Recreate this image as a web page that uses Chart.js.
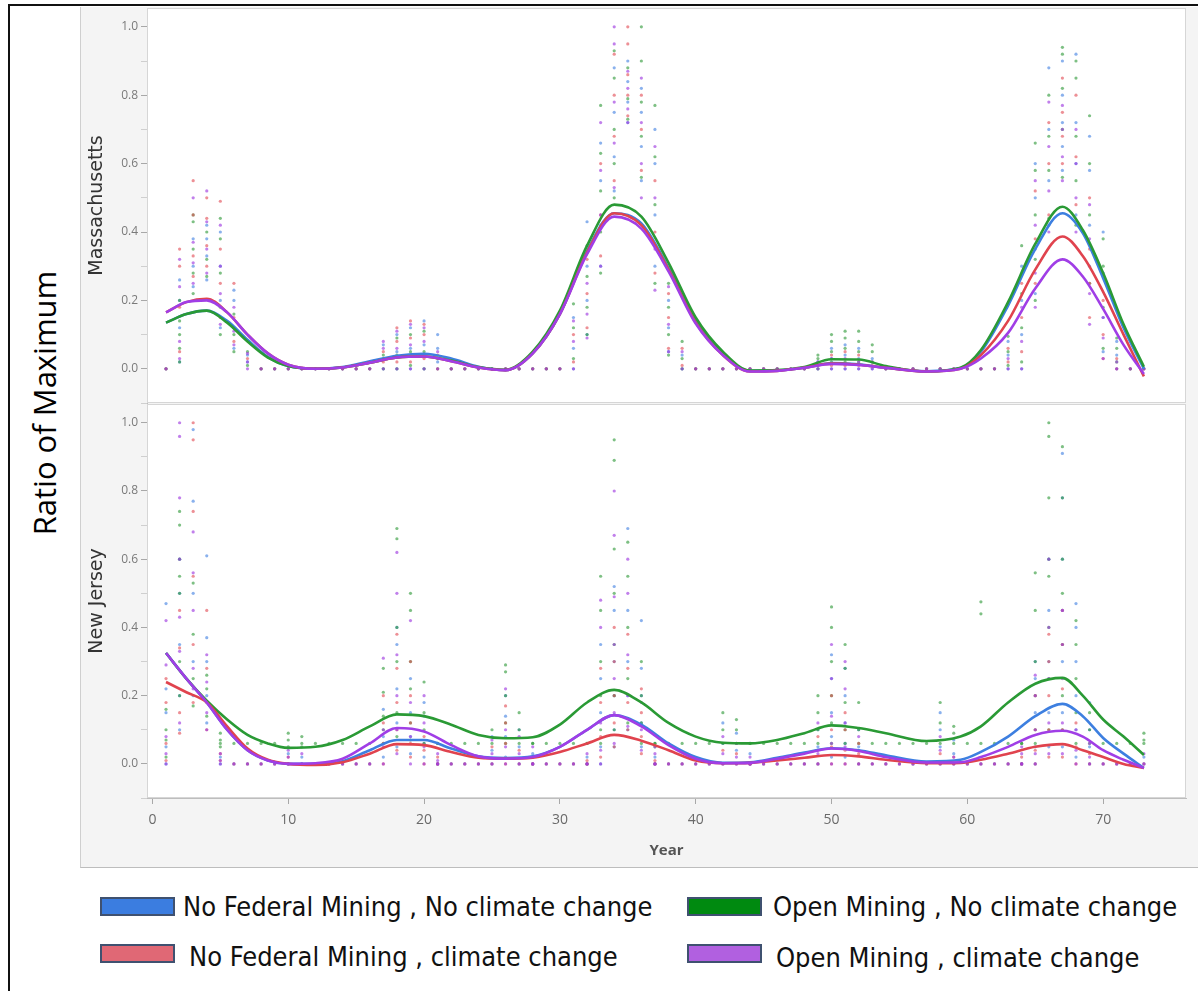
<!DOCTYPE html>
<html lang="en">
<head>
<meta charset="utf-8">
<title>Ratio of Maximum</title>
<style>
body { margin: 0; width: 1198px; height: 991px; position: relative; overflow: hidden; background: #fff; font-family: "Open Sans", sans-serif; }
#frame { position: absolute; left: 8px; top: 4px; width: 1300px; height: 1100px; border-left: 2px solid #111; border-top: 2px solid #111; }
#panel { position: absolute; left: 80px; top: 7px; width: 1130px; height: 860px; background: #f4f4f4; border-left: 1px solid #cfcfcf; border-bottom: 1px solid #bdbdbd; }
#ratio { position: absolute; left: 44px; top: 403px; transform: translate(-50%, -50%) rotate(-90deg); font-size: 31px; white-space: nowrap; color: #000; }
.plot { position: absolute; left: 80px; width: 1118px; }
.sw { position: absolute; width: 71px; height: 15px; border: 2px solid #3f5170; }
.lab { position: absolute; white-space: nowrap; font-family: "Liberation Sans Narrow", "DejaVu Sans Condensed", sans-serif; font-size: 27px; color: #111; transform: translateY(-50%); }
</style>
</head>
<body>
<div id="frame"></div>
<div id="panel"></div>
<div id="ratio">Ratio of Maximum</div>
<div class="plot" style="top:7px;height:397px"><canvas id="ma"></canvas></div>
<div class="plot" style="top:404px;height:463px"><canvas id="nj"></canvas></div>
<div id="legend"></div>
<script src="https://cdn.jsdelivr.net/npm/chart.js"></script>
<script>

let SERIES = ["No Federal Mining , No climate change", "Open Mining , No climate change",
              "No Federal Mining , climate change", "Open Mining , climate change"]

// years where the fitted curves are sampled
let FIT_X = [1, 2.5, 4, 5.5, 7, 8.5, 10, 12, 14, 16, 18, 20, 22, 24, 26, 28, 30, 32, 34, 36, 38, 40, 42, 44, 46, 48, 50, 52, 54, 57, 59.5, 61, 63, 65, 67, 68.5, 70, 71.5, 73]

// Massachusetts fits
let MA_FIT_BLUE   = [0.135, 0.16, 0.17, 0.14, 0.085, 0.035, 0.008, 0.0, 0.005, 0.022, 0.038, 0.044, 0.03, 0.006, -0.004, 0.045, 0.16, 0.345, 0.455, 0.425, 0.295, 0.14, 0.045, -0.006, -0.005, 0.003, 0.017, 0.013, 0.003, -0.007, 0.002, 0.05, 0.185, 0.35, 0.455, 0.397, 0.265, 0.12, 0.0]
let MA_FIT_GREEN  = [0.135, 0.16, 0.17, 0.135, 0.08, 0.033, 0.008, 0.0, 0.004, 0.018, 0.033, 0.036, 0.024, 0.005, -0.003, 0.05, 0.17, 0.36, 0.48, 0.445, 0.31, 0.15, 0.05, -0.005, -0.004, 0.005, 0.028, 0.027, 0.008, -0.008, 0.003, 0.055, 0.195, 0.365, 0.474, 0.406, 0.28, 0.13, 0.006]
let MA_FIT_RED    = [0.165, 0.195, 0.205, 0.165, 0.1, 0.045, 0.012, 0.0, 0.004, 0.018, 0.033, 0.036, 0.022, 0.004, -0.004, 0.045, 0.16, 0.34, 0.455, 0.42, 0.29, 0.135, 0.04, -0.008, -0.006, 0.003, 0.015, 0.012, 0.003, -0.008, 0.0, 0.04, 0.14, 0.29, 0.387, 0.33, 0.225, 0.1, -0.022]
let MA_FIT_PURPLE = [0.165, 0.195, 0.2, 0.165, 0.1, 0.045, 0.012, 0.0, 0.004, 0.018, 0.033, 0.036, 0.022, 0.004, -0.004, 0.045, 0.16, 0.335, 0.445, 0.41, 0.285, 0.132, 0.04, -0.008, -0.006, 0.003, 0.014, 0.011, 0.003, -0.008, 0.0, 0.03, 0.105, 0.235, 0.32, 0.27, 0.175, 0.07, -0.015]

// New Jersey fits
let NJ_FIT_BLUE   = [0.325, 0.25, 0.18, 0.1, 0.04, 0.01, 0.0, 0.0, 0.008, 0.04, 0.07, 0.07, 0.045, 0.022, 0.017, 0.022, 0.05, 0.1, 0.143, 0.115, 0.06, 0.02, 0.003, 0.005, 0.018, 0.033, 0.046, 0.04, 0.025, 0.007, 0.012, 0.035, 0.08, 0.14, 0.176, 0.14, 0.076, 0.03, -0.012]
let NJ_FIT_GREEN  = [0.325, 0.25, 0.185, 0.13, 0.085, 0.06, 0.047, 0.05, 0.07, 0.11, 0.145, 0.14, 0.115, 0.085, 0.075, 0.078, 0.115, 0.18, 0.217, 0.18, 0.12, 0.08, 0.062, 0.06, 0.07, 0.09, 0.113, 0.105, 0.09, 0.067, 0.08, 0.11, 0.18, 0.235, 0.252, 0.2, 0.13, 0.08, 0.026]
let NJ_FIT_RED    = [0.24, 0.21, 0.18, 0.11, 0.045, 0.012, 0.0, -0.003, 0.005, 0.03, 0.058, 0.055, 0.035, 0.018, 0.015, 0.018, 0.035, 0.06, 0.085, 0.068, 0.04, 0.01, 0.002, 0.003, 0.01, 0.018, 0.026, 0.022, 0.012, 0.002, 0.003, 0.012, 0.03, 0.05, 0.058, 0.04, 0.02, 0.0, -0.012]
let NJ_FIT_PURPLE = [0.325, 0.25, 0.18, 0.1, 0.04, 0.01, 0.0, 0.002, 0.015, 0.06, 0.105, 0.095, 0.055, 0.022, 0.015, 0.02, 0.05, 0.1, 0.143, 0.11, 0.055, 0.015, 0.002, 0.003, 0.015, 0.03, 0.045, 0.038, 0.02, 0.004, 0.005, 0.02, 0.05, 0.085, 0.097, 0.08, 0.04, 0.012, -0.012]

// years where every run sits on its floor
let MA_IDLE_YEARS = [1, 8, 9, 10, 11, 12, 13, 14, 15, 16, 22, 23, 24, 25, 26, 27, 28, 29, 30, 40, 41, 42, 43, 44, 45, 46, 47, 48, 54, 55, 56, 57, 58, 59, 60, 61, 62, 72, 73]
let NJ_IDLE_YEARS = [6, 7, 8, 9, 12, 13, 14, 15, 16, 21, 22, 23, 24, 28, 29, 30, 31, 32, 37, 38, 39, 40, 41, 44, 45, 46, 47, 48, 53, 54, 55, 56, 57, 60, 62, 63, 64, 70, 71, 72]
let NJ_GREEN_FLOOR = 0.06

// raw runs: [year, values...]
let MA_PTS_BLUE = [[2, 0.02, 0.12, 0.2, 0.26], [3, 0.24, 0.3, 0.38], [4, 0.26, 0.33, 0.38, 0.42], [5, 0.12, 0.2, 0.3, 0.4], [6, 0.06, 0.12, 0.2, 0.23], [7, 0.02, 0.04],
  [17, 0.0, 0.03, 0.07], [18, 0.0, 0.05, 0.1], [19, 0.0, 0.06, 0.12], [20, 0.0, 0.07, 0.14], [21, 0.02, 0.06, 0.1],
  [31, 0.0, 0.06, 0.15], [32, 0.1, 0.2, 0.3, 0.43], [33, 0.3, 0.42, 0.55, 0.66], [34, 0.52, 0.62, 0.75, 0.88], [35, 0.72, 0.78, 0.84, 0.9], [36, 0.55, 0.65, 0.75, 0.82], [37, 0.3, 0.45, 0.6, 0.7], [38, 0.05, 0.12, 0.2], [39, 0.0, 0.04],
  [49, 0.0, 0.02], [50, 0.0, 0.03, 0.06], [51, 0.0, 0.04, 0.07], [52, 0.0, 0.03, 0.06], [53, 0.0, 0.03],
  [63, 0.0, 0.04, 0.08], [64, 0.0, 0.1, 0.2, 0.3], [65, 0.22, 0.35, 0.5, 0.6], [66, 0.42, 0.55, 0.7, 0.88], [67, 0.58, 0.65, 0.72, 0.8, 0.9], [68, 0.45, 0.6, 0.72, 0.92], [69, 0.3, 0.42, 0.58, 0.68], [70, 0.05, 0.15, 0.28, 0.4], [71, 0.0, 0.04, 0.08]]
let MA_PTS_GREEN = [[2, 0.02, 0.06, 0.1, 0.14, 0.2], [3, 0.22, 0.28, 0.35, 0.43, 0.45], [4, 0.27, 0.32, 0.4], [5, 0.1, 0.18, 0.28, 0.38, 0.44], [6, 0.05, 0.1, 0.16], [7, 0.01, 0.05],
  [17, 0.0, 0.04], [18, 0.0, 0.04, 0.09], [19, 0.01, 0.05, 0.1], [20, 0.0, 0.05, 0.11], [21, 0.0, 0.03],
  [31, 0.03, 0.12, 0.19], [32, 0.1, 0.18, 0.27, 0.36], [33, 0.28, 0.4, 0.52, 0.63, 0.77], [34, 0.5, 0.6, 0.7, 0.85, 0.93], [35, 0.73, 0.79, 0.88], [36, 0.56, 0.68, 0.78, 0.9, 1.0], [37, 0.25, 0.48, 0.62, 0.77], [38, 0.04, 0.1, 0.18, 0.25], [39, 0.0, 0.03, 0.08],
  [49, 0.0, 0.03, 0.04], [50, 0.02, 0.05, 0.08, 0.1], [51, 0.02, 0.06, 0.09, 0.11], [52, 0.02, 0.05, 0.08, 0.11], [53, 0.02, 0.05, 0.07],
  [63, 0.01, 0.05, 0.095], [64, 0.02, 0.12, 0.22, 0.36], [65, 0.2, 0.32, 0.45, 0.58, 0.66], [66, 0.44, 0.58, 0.68, 0.8], [67, 0.56, 0.7, 0.82, 0.92, 0.94], [68, 0.42, 0.55, 0.68, 0.85, 0.9], [69, 0.25, 0.45, 0.6, 0.74], [70, 0.06, 0.18, 0.3, 0.38], [71, 0.02, 0.06, 0.09]]
let MA_PTS_RED = [[2, 0.05, 0.18, 0.3, 0.35], [3, 0.27, 0.33, 0.45, 0.55], [4, 0.3, 0.36, 0.44, 0.5], [5, 0.15, 0.25, 0.35, 0.49], [6, 0.08, 0.15, 0.25], [7, 0.03],
  [17, 0.02, 0.05], [18, 0.02, 0.08, 0.12], [19, 0.02, 0.09, 0.14], [20, 0.03, 0.1, 0.13], [21, 0.0, 0.04],
  [31, 0.02, 0.1], [32, 0.12, 0.22, 0.32], [33, 0.33, 0.45, 0.6], [34, 0.55, 0.68, 0.8, 0.92], [35, 0.74, 0.8, 0.86, 0.95, 1.0], [36, 0.58, 0.7, 0.8], [37, 0.28, 0.4, 0.55], [38, 0.06, 0.15, 0.22], [39, 0.01, 0.06],
  [49, 0.01], [50, 0.01, 0.04], [51, 0.01, 0.05], [52, 0.01, 0.04], [53, 0.01],
  [63, 0.02, 0.06], [64, 0.05, 0.15, 0.25], [65, 0.25, 0.38, 0.52], [66, 0.45, 0.6, 0.72], [67, 0.6, 0.68, 0.75, 0.85], [68, 0.48, 0.62, 0.8], [69, 0.15, 0.25, 0.35, 0.5], [70, 0.03, 0.1, 0.2], [71, 0.0, 0.03]]
let MA_PTS_PURPLE = [[2, 0.03, 0.08, 0.24, 0.32], [3, 0.25, 0.31, 0.37, 0.5], [4, 0.28, 0.35, 0.43, 0.52], [5, 0.13, 0.22, 0.3, 0.42], [6, 0.07, 0.11, 0.18], [7, 0.0, 0.02, 0.045],
  [17, 0.0, 0.06, 0.08], [18, 0.0, 0.06, 0.11], [19, 0.0, 0.07, 0.13], [20, 0.0, 0.08, 0.12], [21, 0.0, 0.05],
  [31, 0.0, 0.08, 0.14], [32, 0.09, 0.16, 0.25, 0.34], [33, 0.3, 0.45, 0.58, 0.72], [34, 0.53, 0.66, 0.78, 0.95, 1.0], [35, 0.72, 0.76, 0.82, 0.87], [36, 0.5, 0.6, 0.72, 0.85], [37, 0.23, 0.35, 0.5, 0.65], [38, 0.05, 0.13, 0.24], [39, 0.0, 0.05],
  [49, 0.0, 0.02], [50, 0.0, 0.03], [51, 0.0, 0.03], [52, 0.0, 0.02], [53, 0.0, 0.02],
  [63, 0.0, 0.03], [64, 0.0, 0.08, 0.18], [65, 0.18, 0.28, 0.42, 0.55], [66, 0.4, 0.52, 0.65, 0.78], [67, 0.55, 0.62, 0.7, 0.77], [68, 0.4, 0.5, 0.6, 0.7], [69, 0.13, 0.22, 0.38, 0.48], [70, 0.03, 0.09, 0.15], [71, 0.0, 0.02]]

let NJ_PTS_BLUE = [[1, 0.0, 0.05, 0.15, 0.22, 0.47], [2, 0.1, 0.2, 0.35, 0.5, 0.6], [3, 0.2, 0.3, 0.5, 0.77, 0.98], [4, 0.12, 0.2, 0.3, 0.37, 0.61], [5, 0.0, 0.02], [10, 0.0, 0.03], [11, 0.0, 0.02],
  [17, 0.02, 0.08, 0.16], [18, 0.05, 0.12, 0.22, 0.35, 0.4], [19, 0.03, 0.08, 0.15, 0.25], [20, 0.02, 0.06, 0.14, 0.18], [21, 0.0],
  [25, 0.0, 0.04, 0.08], [26, 0.02, 0.08, 0.14, 0.2], [27, 0.0, 0.05, 0.1], [28, 0.0, 0.03],
  [32, 0.0, 0.02], [33, 0.0, 0.05, 0.15, 0.25, 0.35], [34, 0.05, 0.1, 0.2, 0.3, 0.45, 0.52], [35, 0.1, 0.2, 0.3, 0.45, 0.69], [36, 0.05, 0.12, 0.2, 0.28, 0.42], [37, 0.0, 0.02],
  [42, 0.0, 0.06, 0.12], [43, 0.0, 0.04, 0.09], [44, 0.0, 0.03],
  [49, 0.0, 0.05, 0.1], [50, 0.02, 0.08, 0.15, 0.25, 0.32], [51, 0.02, 0.06, 0.12, 0.2, 0.28], [52, 0.0, 0.05, 0.1],
  [58, 0.0, 0.05, 0.1, 0.15], [59, 0.0, 0.03, 0.07], [61, 0.0], [64, 0.0],
  [65, 0.0, 0.05, 0.15, 0.25, 0.3], [66, 0.05, 0.15, 0.3, 0.45, 0.6], [67, 0.05, 0.15, 0.3, 0.45, 0.6, 0.78, 0.91], [68, 0.02, 0.1, 0.2, 0.3, 0.4, 0.47], [69, 0.0, 0.05, 0.1, 0.18], [73, 0.0, 0.02]]
let NJ_PTS_GREEN = [[1, 0.02, 0.07, 0.1, 0.16], [2, 0.2, 0.3, 0.5, 0.55, 0.6, 0.7, 0.74], [3, 0.17, 0.25, 0.38, 0.53], [4, 0.14, 0.22, 0.26], [5, 0.05, 0.06, 0.07, 0.09], [10, 0.05, 0.07, 0.09], [11, 0.05, 0.06, 0.08],
  [17, 0.06, 0.1, 0.14, 0.21, 0.28], [18, 0.08, 0.15, 0.3, 0.4, 0.66, 0.69], [19, 0.07, 0.12, 0.22, 0.3, 0.45, 0.5], [20, 0.06, 0.1, 0.15, 0.24], [21, 0.06],
  [25, 0.06, 0.1], [26, 0.06, 0.12, 0.2, 0.27, 0.29], [27, 0.06, 0.1, 0.15], [28, 0.06],
  [32, 0.06], [33, 0.06, 0.1, 0.2, 0.3, 0.45, 0.55], [34, 0.1, 0.2, 0.35, 0.5, 0.63, 0.89, 0.95], [35, 0.12, 0.25, 0.4, 0.55, 0.65], [36, 0.06, 0.12, 0.2, 0.3], [37, 0.05, 0.06],
  [42, 0.06, 0.1, 0.15], [43, 0.06, 0.1, 0.13], [44, 0.06],
  [49, 0.06, 0.1, 0.15, 0.2], [50, 0.06, 0.12, 0.2, 0.3, 0.4, 0.46], [51, 0.06, 0.1, 0.18, 0.28, 0.35], [52, 0.06, 0.1, 0.18],
  [58, 0.06, 0.12, 0.18], [59, 0.06, 0.09, 0.11], [61, 0.06, 0.44, 0.475], [64, 0.06],
  [65, 0.06, 0.1, 0.2, 0.3, 0.45, 0.56], [66, 0.1, 0.25, 0.4, 0.55, 0.6, 0.78, 0.96, 1.0], [67, 0.1, 0.2, 0.35, 0.5, 0.6, 0.78, 0.93], [68, 0.06, 0.15, 0.25, 0.35, 0.42], [69, 0.06, 0.1, 0.15], [73, 0.06, 0.07, 0.09]]
let NJ_PTS_RED = [[1, 0.01, 0.06, 0.18, 0.25], [2, 0.09, 0.15, 0.34, 0.45], [3, 0.18, 0.35, 0.55, 0.74, 0.95, 1.0], [4, 0.1, 0.18, 0.28, 0.45], [5, 0.01, 0.03], [10, 0.0, 0.02], [11, 0.0],
  [17, 0.0, 0.06, 0.12, 0.2], [18, 0.04, 0.1, 0.18, 0.28, 0.38], [19, 0.02, 0.06, 0.12, 0.2, 0.3], [20, 0.0, 0.04, 0.08], [21, 0.0, 0.02],
  [25, 0.0, 0.05], [26, 0.0, 0.06, 0.12, 0.17], [27, 0.0, 0.04], [28, 0.0],
  [32, 0.0, 0.01], [33, 0.02, 0.08, 0.18, 0.28], [34, 0.05, 0.12, 0.2, 0.3, 0.4], [35, 0.1, 0.18, 0.28, 0.38], [36, 0.03, 0.08, 0.15, 0.22], [37, 0.0, 0.01],
  [42, 0.0, 0.04], [43, 0.0, 0.03], [44, 0.0],
  [49, 0.0, 0.04, 0.08], [50, 0.0, 0.05, 0.1, 0.2], [51, 0.0, 0.04, 0.1, 0.15], [52, 0.0, 0.03, 0.06],
  [58, 0.0, 0.03], [59, 0.0, 0.02], [61, 0.0], [64, 0.0, 0.02],
  [65, 0.0, 0.04, 0.1, 0.2], [66, 0.02, 0.1, 0.2, 0.3, 0.38], [67, 0.02, 0.1, 0.22, 0.35, 0.45], [68, 0.0, 0.05, 0.12], [69, 0.0, 0.03], [73, 0.0]]
let NJ_PTS_PURPLE = [[1, 0.0, 0.03, 0.08, 0.29, 0.42], [2, 0.12, 0.33, 0.43, 0.6, 0.78, 0.96, 1.0], [3, 0.22, 0.28, 0.45, 0.56, 0.68], [4, 0.1, 0.15, 0.24, 0.32], [5, 0.0, 0.01, 0.03], [10, 0.0, 0.02, 0.04], [11, 0.0, 0.03],
  [17, 0.0, 0.05, 0.1, 0.31], [18, 0.03, 0.1, 0.2, 0.32, 0.5, 0.62], [19, 0.0, 0.08, 0.18, 0.42], [20, 0.0, 0.05, 0.12, 0.2], [21, 0.0, 0.01, 0.03],
  [25, 0.0, 0.03, 0.07], [26, 0.0, 0.05, 0.1, 0.22], [27, 0.0, 0.03, 0.08], [28, 0.0, 0.02, 0.05],
  [32, 0.0, 0.03], [33, 0.0, 0.04, 0.12, 0.4, 0.48], [34, 0.06, 0.15, 0.25, 0.35, 0.49, 0.67, 0.8], [35, 0.11, 0.2, 0.32, 0.5, 0.6], [36, 0.04, 0.1, 0.18], [37, 0.0, 0.03, 0.05],
  [42, 0.0, 0.03, 0.08], [43, 0.0, 0.02, 0.06], [44, 0.0, 0.02],
  [49, 0.0, 0.03, 0.12], [50, 0.0, 0.06, 0.14, 0.25, 0.35], [51, 0.0, 0.05, 0.12, 0.22, 0.3], [52, 0.0, 0.04, 0.08],
  [58, 0.0, 0.04, 0.08], [59, 0.0, 0.02], [61, 0.0], [64, 0.0, 0.03, 0.05],
  [65, 0.0, 0.03, 0.1, 0.2, 0.26], [66, 0.03, 0.12, 0.25, 0.4, 0.6], [67, 0.03, 0.12, 0.25, 0.35, 0.45], [68, 0.0, 0.04, 0.1], [69, 0.0, 0.02, 0.06], [73, 0.0, 0.03]]

let LINE_COLORS  = ["#3d7fe0", "#2a9a35", "#e0434e", "#a03ee6"]
let POINT_COLORS = ["rgba(60,125,225,0.6)", "rgba(40,150,50,0.6)", "rgba(225,70,80,0.6)", "rgba(160,60,225,0.65)"]
let SWATCH_COLORS = ["#3b7de0", "#008a10", "#e06875", "#b160e0"]
// drawing order: purple on top, then red, green, blue
let LINE_ORDER = [3, 2, 1, 0]

function expand(rows, idle, floor) {
    let pts = rows.flatMap(r => r.slice(1).map(v => ({x: r[0], y: v})))
    idle.forEach(yr => pts.push({x: yr, y: floor}))
    return pts
}

function datasets(fits, pts) {
    let ds = []
    fits.forEach((f, i) => ds.push({
        label: SERIES[i],
        data: FIT_X.map((x, j) => ({x: x, y: f[j]})),
        showLine: true,
        borderColor: LINE_COLORS[i],
        borderWidth: 2.6,
        pointRadius: 0,
        cubicInterpolationMode: "monotone",
        order: LINE_ORDER[i],
    }))
    pts.forEach((p, i) => ds.push({
        label: SERIES[i] + " runs",
        data: p,
        showLine: false,
        pointRadius: 1.6,
        pointBorderWidth: 0,
        pointBackgroundColor: POINT_COLORS[i],
        order: 10 + LINE_ORDER[i],
    }))
    return ds
}

let plotBox = {
    id: "plotBox",
    beforeDraw(chart) {
        let {ctx, chartArea: a} = chart
        ctx.save()
        ctx.fillStyle = "#fff"
        ctx.fillRect(a.left, a.top, a.right - a.left, a.bottom - a.top)
        ctx.restore()
    },
    afterDraw(chart) {
        let {ctx, chartArea: a} = chart
        ctx.save()
        ctx.strokeStyle = "#d6d6d6"
        ctx.lineWidth = 1
        ctx.strokeRect(a.left + 0.5, a.top + 0.5, a.right - a.left - 1, a.bottom - a.top - 1)
        ctx.restore()
    },
}

function noEdgePadding(s) {
    s.paddingTop = 0
    s.paddingBottom = 0
    s.paddingLeft = 0
    s.paddingRight = 0
}

function yScale(title) {
    return {
        min: -0.1,
        max: 1.055,
        afterFit: s => { s.width = 67; noEdgePadding(s) },
        ticks: {
            stepSize: 0.1,
            includeBounds: false,
            color: "#7a7a7a",
            font: {family: "Open Sans", size: 12},
            padding: 3,
            callback: v => Math.round(v * 10) % 2 == 0 ? (Math.round(v * 10) / 10).toFixed(1) : "",
        },
        grid: {
            drawOnChartArea: false,
            tickLength: 6,
            tickColor: c => Math.round(c.tick.value * 10) % 2 == 0 ? "#a8a8a8" : "#cfcfcf",
        },
        border: {color: "#bdbdbd"},
        title: {display: true, text: title, color: "#333", font: {family: "DejaVu Sans", size: 19}, padding: {top: 6, bottom: 0}},
    }
}

function xScale(show) {
    return {
        type: "linear",
        display: show,
        min: -0.4,
        max: 76.1,
        afterFit: s => { if (show) s.height = 69; noEdgePadding(s) },
        ticks: {stepSize: 10, includeBounds: false, color: "#6a6a6a", font: {family: "Open Sans", size: 14}, padding: 8},
        grid: {drawOnChartArea: false, tickLength: 6, tickColor: "#a8a8a8"},
        border: {color: "#bdbdbd"},
        title: {display: true, text: "Year", color: "#555", font: {family: "Open Sans", size: 15, weight: "bold"}, padding: {top: 0, bottom: 7}},
    }
}

function makeChart(id, fits, pts, title, showX, pad) {
    return new Chart(document.getElementById(id), {
        type: "scatter",
        data: {datasets: datasets(fits, pts)},
        options: {
            responsive: true,
            maintainAspectRatio: false,
            animation: false,
            layout: {padding: pad, autoPadding: false},
            plugins: {legend: {display: false}, tooltip: {enabled: false}},
            scales: {x: xScale(showX), y: yScale(title)},
        },
        plugins: [plotBox],
    })
}

makeChart("ma",
    [MA_FIT_BLUE, MA_FIT_GREEN, MA_FIT_RED, MA_FIT_PURPLE],
    [expand(MA_PTS_BLUE, MA_IDLE_YEARS, 0), expand(MA_PTS_GREEN, MA_IDLE_YEARS, 0),
     expand(MA_PTS_RED, MA_IDLE_YEARS, 0), expand(MA_PTS_PURPLE, MA_IDLE_YEARS, 0)],
    "Massachusetts", false, {top: 1, right: 12, bottom: 1, left: 0})

makeChart("nj",
    [NJ_FIT_BLUE, NJ_FIT_GREEN, NJ_FIT_RED, NJ_FIT_PURPLE],
    [expand(NJ_PTS_BLUE, NJ_IDLE_YEARS, 0), expand(NJ_PTS_GREEN, NJ_IDLE_YEARS, NJ_GREEN_FLOOR),
     expand(NJ_PTS_RED, NJ_IDLE_YEARS, 0), expand(NJ_PTS_PURPLE, NJ_IDLE_YEARS, 0)],
    "New Jersey", true, {top: 0, right: 12, bottom: 0, left: 0})

// legend, laid out as in the figure: two rows, two columns
let LEGEND_SPOTS = [
    {sx: 100, sy: 897, tx: 183, ty: 906},
    {sx: 687, sy: 897, tx: 773, ty: 906},
    {sx: 100, sy: 944, tx: 189, ty: 956},
    {sx: 687, sy: 944, tx: 776, ty: 957},
]
let legend = document.getElementById("legend")
LEGEND_SPOTS.forEach((p, i) => {
    let sw = document.createElement("div")
    sw.className = "sw"
    sw.style.left = p.sx + "px"
    sw.style.top = p.sy + "px"
    sw.style.background = SWATCH_COLORS[i]
    let lab = document.createElement("div")
    lab.className = "lab"
    lab.style.left = p.tx + "px"
    lab.style.top = p.ty + "px"
    lab.textContent = SERIES[i]
    legend.appendChild(sw)
    legend.appendChild(lab)
})

</script>
</body>
</html>
